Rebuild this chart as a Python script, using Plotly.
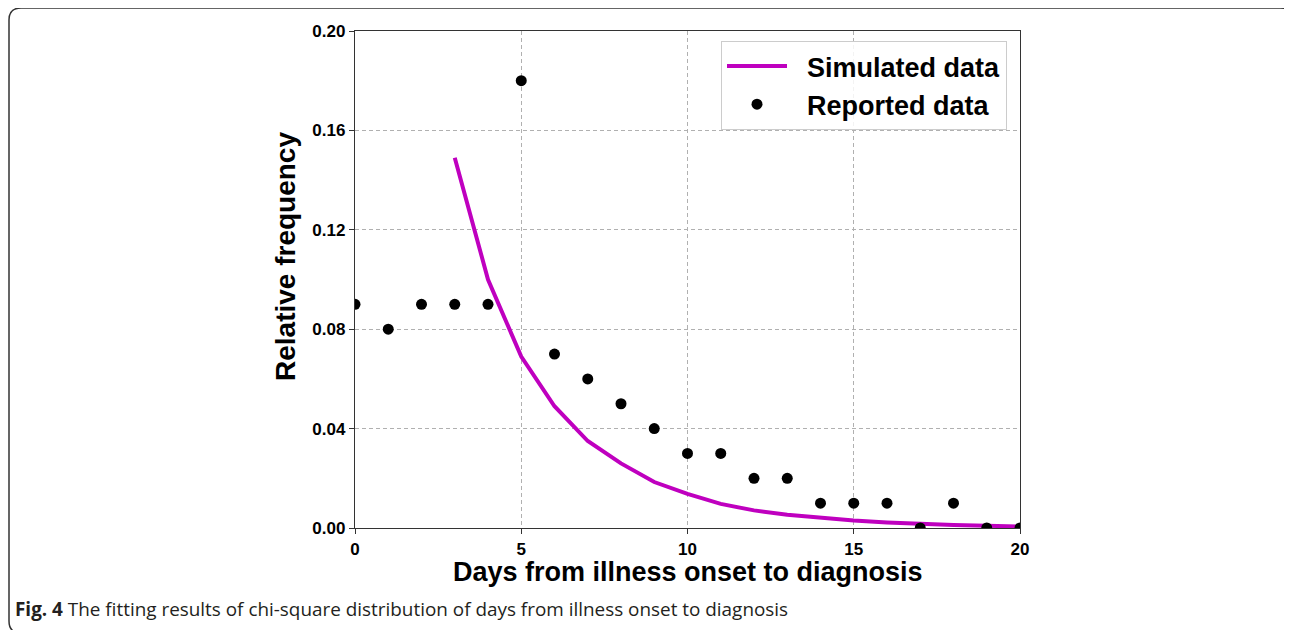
import plotly.graph_objects as go

# ---- data ----
sim_days = [3, 4, 5, 6, 7, 8, 9, 10, 11, 12, 13, 14, 15, 16, 17, 18, 19, 20]
sim_freq = [0.149, 0.100, 0.069, 0.049, 0.035, 0.026, 0.0185, 0.0137, 0.0097,
            0.0071, 0.0053, 0.0040, 0.0030, 0.0022, 0.0016, 0.0012, 0.0009, 0.0006]
rep_days = list(range(0, 21))
rep_freq = [0.09, 0.08, 0.09, 0.09, 0.09, 0.18, 0.07, 0.06, 0.05, 0.04, 0.03,
            0.03, 0.02, 0.02, 0.01, 0.01, 0.01, 0.0, 0.01, 0.0, 0.0]
x_ticks = [0, 5, 10, 15, 20]
y_ticks = [0.00, 0.04, 0.08, 0.12, 0.16, 0.20]

W, H = 1292, 630
L, R, T, B = 355, 1020, 31, 528  # plot area in page pixels
OFF = 8  # browser body margin

def px(x):
    return (x - L) / (R - L)

def py(y):
    return (B - y) / (B - T)

FONT = "Liberation Sans, Arial, sans-serif"
PAD = "\u00a0\u00a0"

fig = go.Figure()
fig.add_trace(go.Scatter(x=sim_days, y=sim_freq, mode="lines", name=PAD + "<b>Simulated data</b>",
                         line=dict(color="#BF00BF", width=4)))
fig.add_trace(go.Scatter(x=rep_days, y=rep_freq, mode="markers", name=PAD + "<b>Reported data</b>",
                         marker=dict(color="black", size=11)))

axis_common = dict(showline=True, linecolor="#333333", linewidth=1.3, mirror=True,
                   ticks="outside", ticklen=5, tickcolor="#333333", tickwidth=1.2,
                   showgrid=True, gridcolor="#b0b0b0", gridwidth=1, griddash="4px,3px",
                   zeroline=False,
                   tickfont=dict(family=FONT, size=17, color="black"))

fig.update_xaxes(range=[0, 20], tickvals=x_ticks, ticktext=[f"<b>{v}</b>" for v in x_ticks],
                 **axis_common)
fig.update_yaxes(range=[0, 0.20], tickvals=y_ticks, ticktext=[f"<b>{v:.2f}</b>" for v in y_ticks],
                 **axis_common)

# rounded outer frame
x0, y0, x1, y1, r = 9, 8, 1292.5, 633, 12
rx = r / (R - L)
ry = r / (B - T)
X0, X1, Y0, Y1 = px(x0), px(x1), py(y0), py(y1)
path = (f"M {X0+rx},{Y0} L {X1-rx},{Y0} Q {X1},{Y0} {X1},{Y0-ry} "
        f"L {X1},{Y1+ry} Q {X1},{Y1} {X1-rx},{Y1} L {X0+rx},{Y1} "
        f"Q {X0},{Y1} {X0},{Y1+ry} L {X0},{Y0-ry} Q {X0},{Y0} {X0+rx},{Y0} Z")
fig.add_shape(type="path", path=path, xref="paper", yref="paper",
              line=dict(color="#333333", width=1.5), layer="below")

fig.add_annotation(text="<b>Days from illness onset to diagnosis</b>", xref="paper", yref="paper",
                   x=0.5, y=py(572), xanchor="center", yanchor="middle", showarrow=False,
                   font=dict(family=FONT, size=27, color="black"))
fig.add_annotation(text="<b>Relative frequency</b>", xref="paper", yref="paper",
                   x=px(285), y=py(257), xanchor="center", yanchor="middle", showarrow=False,
                   textangle=-90, font=dict(family=FONT, size=28, color="black"))
fig.add_annotation(text="<b>Fig. 4</b> The fitting results of chi-square distribution of days from illness onset to diagnosis",
                   xref="paper", yref="paper", x=px(13), y=py(609), xanchor="left", yanchor="middle",
                   showarrow=False, font=dict(family="Open Sans, sans-serif", size=18.9, color="#231f20"))

fig.update_layout(
    width=W, height=H,
    margin=dict(l=L - OFF, r=W - R + OFF, t=T - OFF, b=H - B + OFF),
    plot_bgcolor="white", paper_bgcolor="white",
    showlegend=True,
    legend=dict(x=px(1007), y=py(41), xanchor="right", yanchor="top",
                bgcolor="rgba(255,255,255,0.85)", bordercolor="#cccccc", borderwidth=1,
                font=dict(family=FONT, size=27, color="black"),
                itemwidth=60, tracegroupgap=0),
)

fig.write_html("out.html")
